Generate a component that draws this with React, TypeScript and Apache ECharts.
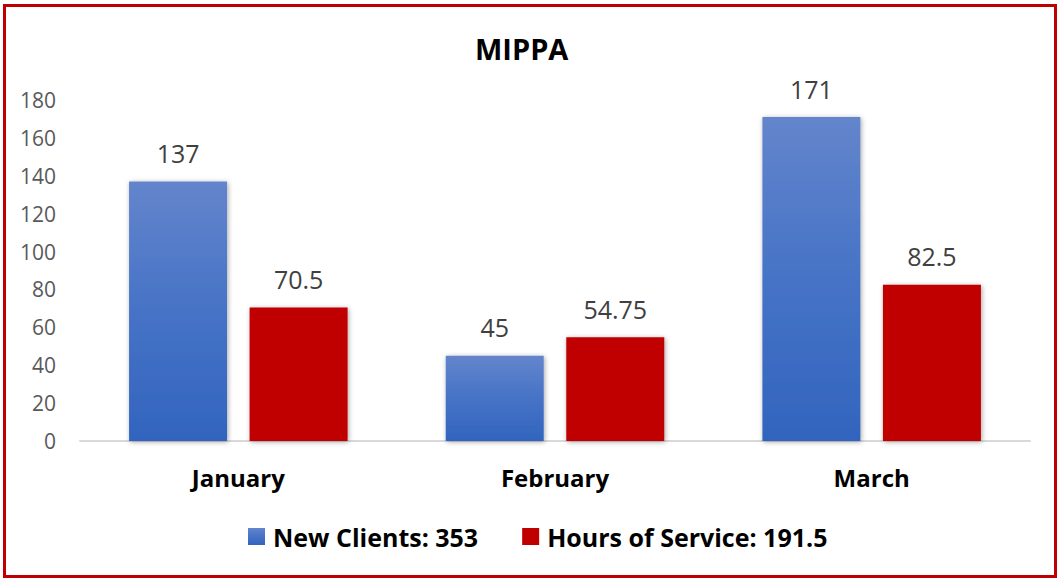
import React, { useEffect, useRef } from "react";
import * as echarts from "echarts";

const categories = ["January", "February", "March"];
const newClients = [137, 45, 171];
const hoursOfService = [70.5, 54.75, 82.5];
const seriesNames = ["New Clients: 353", "Hours of Service: 191.5"];
const chartTitle = "MIPPA";

const FONT = "'Open Sans', sans-serif";

export default function App() {
  const ref = useRef<HTMLDivElement>(null);
  useEffect(() => {
    document.body.style.margin = "0";
    const chart = echarts.init(ref.current!, null, { renderer: "svg" });
    const shadow = {
      shadowBlur: 5,
      shadowColor: "rgba(0,0,0,0.35)",
      shadowOffsetX: 1,
      shadowOffsetY: 1,
    };
    const barLabel = {
      show: true,
      position: "top",
      distance: 16,
      fontFamily: FONT,
      fontSize: 25,
      color: "#404040",
    };
    chart.setOption({
      animation: false,
      backgroundColor: "#ffffff",
      textStyle: { fontFamily: FONT },
      title: {
        text: chartTitle,
        left: 470,
        top: 29,
        textStyle: { fontFamily: FONT, fontSize: 29, fontWeight: "bold", color: "#000" },
      },
      legend: {
        top: 519,
        left: 243,
        itemWidth: 17,
        itemHeight: 17,
        itemGap: 44,
        icon: "rect",
        textStyle: {
          fontFamily: FONT,
          fontSize: 25,
          fontWeight: "bold",
          color: "#000",
          padding: [0, 0, 0, 3],
        },
      },
      grid: { left: 80, right: 28, top: 100, bottom: 139 },
      xAxis: {
        type: "category",
        data: categories,
        axisLine: { lineStyle: { color: "#d9d9d9", width: 2 } },
        axisTick: { show: false },
        axisLabel: { fontFamily: FONT, fontSize: 24, fontWeight: "bold", color: "#000", margin: 24 },
      },
      yAxis: {
        type: "value",
        min: 0,
        max: 180,
        interval: 20,
        splitLine: { show: false },
        axisLine: { show: false },
        axisTick: { show: false },
        axisLabel: { fontFamily: FONT, fontSize: 21, color: "#595959", margin: 24 },
      },
      graphic: [
        {
          type: "rect",
          shape: { x: 4.5, y: 5.5, width: 1051, height: 571 },
          style: { fill: "none", stroke: "#c00000", lineWidth: 3 },
          silent: true,
        },
      ],
      series: [
        {
          name: seriesNames[0],
          type: "bar",
          data: newClients,
          barWidth: 98,
          barGap: "23%",
          itemStyle: {
            color: new echarts.graphic.LinearGradient(0, 0, 0, 1, [
              { offset: 0, color: "#6385cc" },
              { offset: 0.5, color: "#4673c6" },
              { offset: 1, color: "#3264be" },
            ]),
            ...shadow,
          },
          label: barLabel,
        },
        {
          name: seriesNames[1],
          type: "bar",
          data: hoursOfService,
          barWidth: 98,
          itemStyle: { color: "#c00000", ...shadow },
          label: barLabel,
        },
      ],
    });
    return () => chart.dispose();
  }, []);
  return <div ref={ref} style={{ width: 1058, height: 580 }} />;
}
